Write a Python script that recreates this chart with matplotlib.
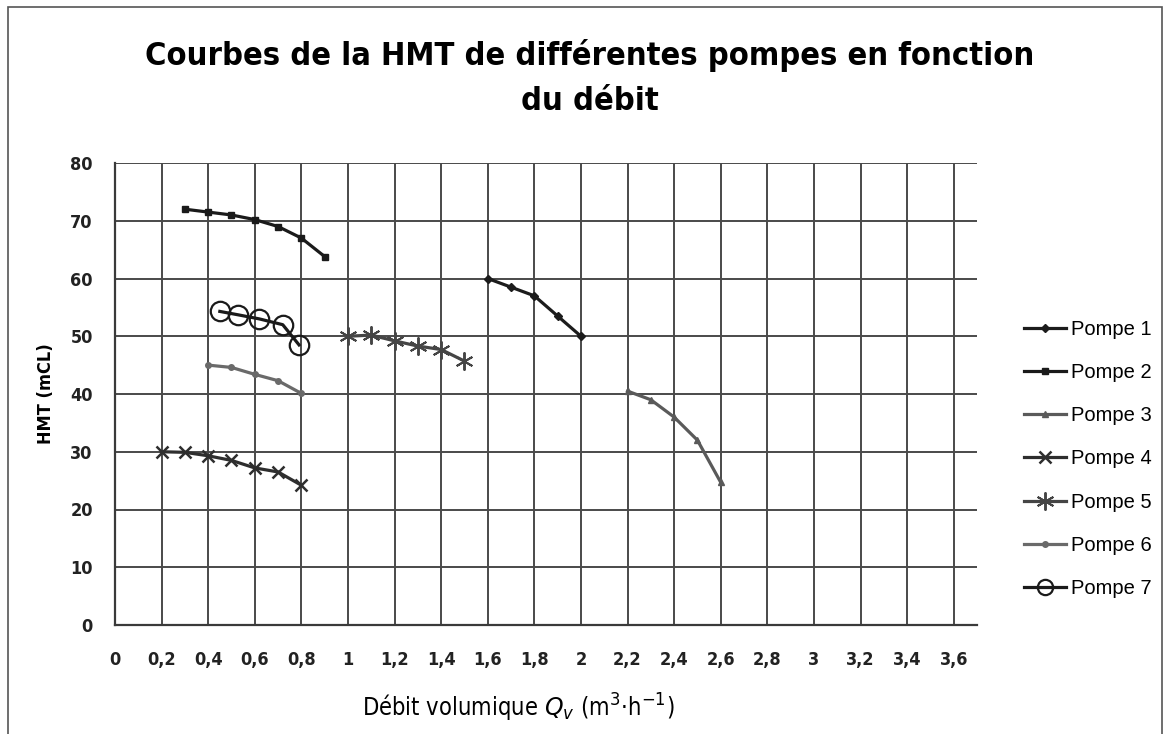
import matplotlib
matplotlib.use("Agg")
import matplotlib.pyplot as plt
from matplotlib.lines import Line2D
from matplotlib.patches import Rectangle

# ---- données ----
q_p1 = [1.6, 1.7, 1.8, 1.9, 2.0]
hmt_p1 = [60, 58.5, 57, 53.5, 50]

q_p2 = [0.3, 0.4, 0.5, 0.6, 0.7, 0.8, 0.9]
hmt_p2 = [72, 71.5, 71, 70.2, 69, 67, 63.8]

q_p3 = [2.2, 2.3, 2.4, 2.5, 2.6]
hmt_p3 = [40.5, 39, 36, 32, 24.7]

q_p4 = [0.2, 0.3, 0.4, 0.5, 0.6, 0.7, 0.8]
hmt_p4 = [30, 29.9, 29.3, 28.5, 27.2, 26.5, 24.2]

q_p5 = [1.0, 1.1, 1.2, 1.3, 1.4, 1.5]
hmt_p5 = [50, 50.2, 49.2, 48.3, 47.7, 45.7]

q_p6 = [0.4, 0.5, 0.6, 0.7, 0.8]
hmt_p6 = [45, 44.6, 43.4, 42.3, 40.1]

q_p7 = [0.45, 0.53, 0.62, 0.72, 0.79]
hmt_p7 = [54.3, 53.7, 53, 52, 48.5]

x_ticks = [0, 0.2, 0.4, 0.6, 0.8, 1, 1.2, 1.4, 1.6, 1.8, 2, 2.2, 2.4, 2.6, 2.8, 3, 3.2, 3.4, 3.6]
y_ticks = [0, 10, 20, 30, 40, 50, 60, 70, 80]

COND = dict(family="DejaVu Sans", stretch="condensed")
ARIAL = "Liberation Sans"

fig = plt.figure(figsize=(11.7, 7.34), dpi=100)
ax = fig.add_axes([115 / 1170, 1 - 625 / 734, (977 - 115) / 1170, (625 - 163) / 734])

series = [
    (q_p1, hmt_p1, "Pompe 1", "#1c1c1c", dict(marker="D", markersize=4)),
    (q_p2, hmt_p2, "Pompe 2", "#1a1a1a", dict(marker="s", markersize=5)),
    (q_p3, hmt_p3, "Pompe 3", "#5a5a5a", dict(marker="^", markersize=5)),
    (q_p4, hmt_p4, "Pompe 4", "#2e2e2e", dict(marker="x", markersize=8, markeredgewidth=1.8)),
    (q_p5, hmt_p5, "Pompe 5", "#454545", dict(marker=(6, 2, 0), markersize=13, markeredgewidth=1.4)),
    (q_p6, hmt_p6, "Pompe 6", "#6a6a6a", dict(marker="o", markersize=4)),
    (q_p7, hmt_p7, "Pompe 7", "#1a1a1a", dict(marker="o", markersize=14, markerfacecolor="none",
                                              markeredgewidth=1.6)),
]

handles = []
for q, h, name, col, mk in series:
    ax.plot(q, h, color=col, linewidth=2.3, zorder=3, **mk)
    leg_mk = dict(mk)
    if name == "Pompe 7":
        leg_mk["markersize"] = 11
    handles.append(Line2D([], [], color=col, linewidth=2.3, label=name, **leg_mk))

ax.set_xlim(0, 3.7)
ax.set_ylim(0, 80)
ax.set_xticks(x_ticks)
ax.set_yticks(y_ticks)
ax.set_xticklabels([f"{t:g}".replace(".", ",") for t in x_ticks],
                   fontsize=13, fontweight="bold", **COND)
ax.set_yticklabels([str(t) for t in y_ticks], fontsize=13, fontweight="bold", **COND)
ax.tick_params(length=0, colors="#222222")
ax.tick_params(axis="x", pad=19)
ax.tick_params(axis="y", pad=16)

ax.grid(True, color="#4a4a4a", linewidth=1.4)
ax.set_axisbelow(True)
for s in ["top", "right"]:
    ax.spines[s].set_visible(False)
for s in ["left", "bottom"]:
    ax.spines[s].set_color("#3a3a3a")
    ax.spines[s].set_linewidth(1.6)

ax.set_ylabel("HMT (mCL)", fontsize=13, fontweight="bold", **COND)
ax.yaxis.set_label_coords(-60 / 862, 0.5)
fig.text(518 / 1170, 1 - 708 / 734, r"Débit volumique $Q_v$ (m$^3$·h$^{-1}$)",
         ha="center", va="center", fontsize=17, **COND)

fig.text(590 / 1170, 1 - 55 / 734, "Courbes de la HMT de différentes pompes en fonction",
         ha="center", va="center", fontsize=23.4, fontweight="bold", **COND)
fig.text(590 / 1170, 1 - 101 / 734, "du débit",
         ha="center", va="center", fontsize=23.4, fontweight="bold", **COND)

fig.legend(handles=handles, loc="center left", bbox_to_anchor=(1006 / 1170, 1 - 459 / 734),
           frameon=False, handlelength=2.1, handletextpad=0.25, labelspacing=1.2,
           prop={"family": ARIAL, "size": 14.5})

fig.patches.append(Rectangle((8 / 1170, -0.02), 1154 / 1170, 1.01, transform=fig.transFigure,
                             fill=False, edgecolor="#555555", linewidth=1.2))

fig.savefig("out.png", dpi=100)
